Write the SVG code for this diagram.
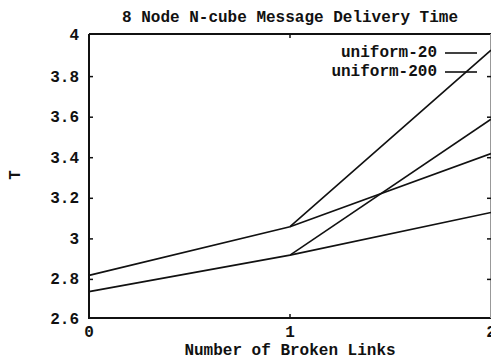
<svg xmlns="http://www.w3.org/2000/svg" width="491" height="359" viewBox="0 0 491 359">
  <style>
    .txt { font-family: "Liberation Mono", "DejaVu Sans Mono", monospace; font-size: 16px; font-weight: bold; fill: #111; }
    .ytick { text-anchor: end; }
    .mid { text-anchor: middle; }
    .frame { fill: none; stroke: #111; stroke-width: 2; }
    .tick { stroke: #111; stroke-width: 1.5; }
    .series { fill: none; stroke: #111; stroke-width: 1.6; stroke-linejoin: round; }
  </style>

  <!-- title -->
  <text class="txt mid" x="290" y="22">8 Node N-cube Message Delivery Time</text>

  <!-- plot frame and ticks -->
  <g id="axes">
    <path class="frame" d="M89,34 H491 M89,34 V318 H491"/>
    <line x1="490.5" y1="34" x2="490.5" y2="318" stroke="#999" stroke-width="1"/>
    <g class="tick">
      <line x1="89" y1="76.6" x2="93" y2="76.6"/>
      <line x1="89" y1="117.2" x2="93" y2="117.2"/>
      <line x1="89" y1="157.7" x2="93" y2="157.7"/>
      <line x1="89" y1="198.3" x2="93" y2="198.3"/>
      <line x1="89" y1="238.9" x2="93" y2="238.9"/>
      <line x1="89" y1="279.4" x2="93" y2="279.4"/>
      <line x1="491" y1="76.6" x2="487" y2="76.6"/>
      <line x1="491" y1="117.2" x2="487" y2="117.2"/>
      <line x1="491" y1="157.7" x2="487" y2="157.7"/>
      <line x1="491" y1="198.3" x2="487" y2="198.3"/>
      <line x1="491" y1="238.9" x2="487" y2="238.9"/>
      <line x1="491" y1="279.4" x2="487" y2="279.4"/>
      <line x1="290" y1="34" x2="290" y2="38"/>
      <line x1="290" y1="318" x2="290" y2="314"/>
    </g>
  </g>

  <!-- y tick labels -->
  <g id="ylabels" class="txt ytick">
    <text x="79" y="40">4</text>
    <text x="79" y="82">3.8</text>
    <text x="79" y="122">3.6</text>
    <text x="79" y="163">3.4</text>
    <text x="79" y="203">3.2</text>
    <text x="79" y="244">3</text>
    <text x="79" y="284">2.8</text>
    <text x="79" y="324">2.6</text>
  </g>

  <!-- x tick labels -->
  <g id="xlabels" class="txt mid">
    <text x="89" y="337">0</text>
    <text x="290" y="337">1</text>
    <text x="491" y="337">2</text>
  </g>

  <!-- axis titles -->
  <text class="txt mid" x="290" y="355">Number of Broken Links</text>
  <text class="txt mid" transform="translate(20,175) rotate(-90)">T</text>

  <!-- legend -->
  <g id="legend">
    <text class="txt ytick" x="437" y="57">uniform-20</text>
    <line class="series" x1="445" y1="53" x2="477" y2="53"/>
    <text class="txt ytick" x="437" y="76">uniform-200</text>
    <line class="series" x1="445" y1="72" x2="477" y2="72"/>
  </g>

  <!-- data curves -->
  <g id="connectors">
    <polyline class="series" points="89,275.4 290,226.7 491,50.2"/>
    <polyline class="series" points="290,226.7 491,153.6"/>
    <polyline class="series" points="89,291.6 290,255.1 491,212.5"/>
    <polyline class="series" points="290,255.1 491,119.2"/>
  </g>
</svg>
